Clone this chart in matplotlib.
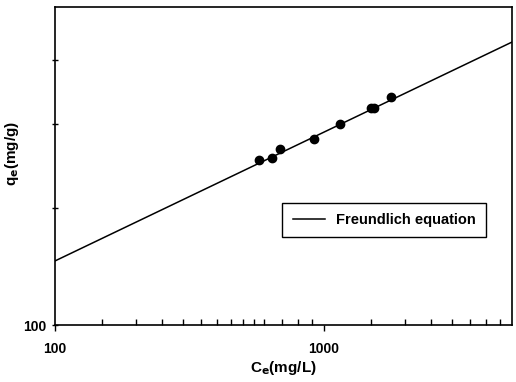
import numpy as np
import matplotlib
matplotlib.use("Agg")
import matplotlib.pyplot as plt
from matplotlib.ticker import FixedLocator, NullFormatter, FixedFormatter

plt.rcParams["font.family"] = ["Liberation Sans", "DejaVu Sans"]
plt.rcParams["font.weight"] = "bold"

# measured equilibrium data
ce = [574, 640, 687, 920, 1150, 1497, 1541, 1778]
qe = [177, 177.8, 183.3, 190.3, 200.4, 211.4, 211.7, 219.6]

# Freundlich fit q = K * C^(1/n)
K_F = 51.3
N_INV = 0.193
C_RANGE = (100, 5000)

x_major = [100, 1000]
x_minor = [150, 200, 250, 300, 350, 400, 450, 500, 550, 600, 700, 800, 900,
           1500, 2000, 2500, 3000, 3500, 4000, 4500]
y_major = [100, 150, 200, 250]
y_labels = ["100", "", "", ""]

fig = plt.figure(figsize=(5.16, 3.82), dpi=100)
ax = fig.add_axes([0.1066, 0.149, 0.8854, 0.8335])

c_fit = np.logspace(np.log10(C_RANGE[0]), np.log10(C_RANGE[1]), 200)
ax.plot(c_fit, K_F * c_fit ** N_INV, color="black", lw=1.1, label="Freundlich equation")
ax.plot(ce, qe, "o", color="black", ms=6, label="_nolegend_")

ax.set_xscale("log")
ax.set_yscale("log")
ax.set_xlim(*C_RANGE)
ax.set_ylim(100, 300)

ax.xaxis.set_major_locator(FixedLocator(x_major))
ax.xaxis.set_major_formatter(FixedFormatter(["100", "1000"]))
ax.xaxis.set_minor_locator(FixedLocator(x_minor))
ax.xaxis.set_minor_formatter(NullFormatter())
ax.yaxis.set_major_locator(FixedLocator(y_major))
ax.yaxis.set_major_formatter(FixedFormatter(y_labels))
ax.yaxis.set_minor_locator(FixedLocator([]))

ax.tick_params(axis="x", which="major", direction="out", length=4, width=1, labelsize=10, pad=8)
ax.tick_params(axis="x", which="minor", direction="in", length=4, width=1)
ax.tick_params(axis="y", which="major", direction="inout", length=5, width=1, labelsize=10)
for s in ax.spines.values():
    s.set_linewidth(1.2)

ax.set_xlabel(r"C$_\mathbf{e}$(mg/L)", fontsize=11, fontweight="bold", labelpad=2)
ax.set_ylabel(r"q$_\mathbf{e}$(mg/g)", fontsize=11, fontweight="bold")
ax.yaxis.set_label_coords(-0.075, 0.54)

leg = ax.legend(loc="center right", bbox_to_anchor=(0.96, 0.33), fancybox=False,
                edgecolor="black", framealpha=1, handlelength=2.2,
                prop={"weight": "bold", "size": 10.5}, borderpad=0.7)
leg.get_frame().set_linewidth(1.0)

fig.savefig("out.png", dpi=100)
